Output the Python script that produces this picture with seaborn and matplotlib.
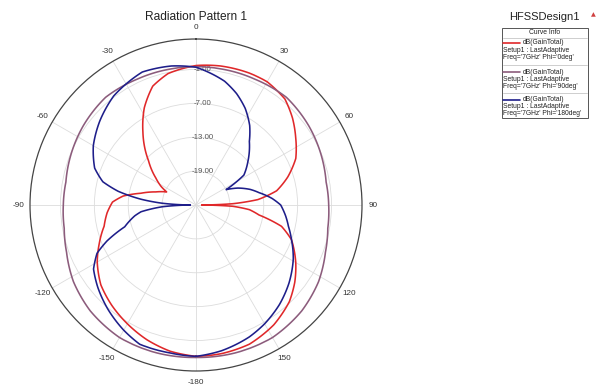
import numpy as np
import pandas as pd
import matplotlib
matplotlib.use("Agg")
import matplotlib.pyplot as plt
import matplotlib.transforms as mtransforms
from matplotlib.lines import Line2D
from matplotlib.patches import Rectangle
import seaborn as sns

# Gain cuts at 7 GHz: theta in degrees, dB(GainTotal)
theta_phi0 = [-180, -170, -160, -150, -140, -130, -120, -112, -103, -95, -88, -83, -78, -72,
              -66, -62, -56, -47, -36, -28, -20, -12, 0, 10, 22, 30, 40, 48, 56, 65, 73, 80,
              85, 88, 90, 92, 95, 99, 104, 110, 120, 128, 136, 147, 159, 170, 180]
gain_phi0 = [1.8, 1.3, 0.4, -0.7, -1.8, -3.0, -4.8, -6.5, -8.3, -9.2, -10.2, -12.0, -15.0, -17.5,
             -19.3, -18.0, -16.4, -13.5, -9.0, -5.5, -2.6, -1.2, -0.3, 0.0, 0.2, 0.2, -0.5, -2.0,
             -3.7, -5.5, -8.0, -10.5, -14.0, -18.5, -24.0, -18.5, -15.5, -13.7, -9.4, -7.0, -4.6,
             -2.8, -1.2, 0.3, 1.4, 1.7, 1.8]

theta_phi90 = [-180, -165, -150, -135, -122, -110, -100, -90, -80, -70, -55, -40, -25, -10, 0,
               10, 25, 40, 55, 70, 80, 90, 100, 110, 122, 135, 150, 165, 180]
gain_phi90 = [2.0, 2.1, 2.1, 1.5, 0.6, -0.6, -1.3, -1.5, -1.6, -1.2, -0.6, -0.1, -0.4, -0.5, -0.5,
              -0.5, -0.4, -0.1, -0.6, -1.2, -1.6, -1.5, -1.3, -0.6, 0.6, 1.5, 2.1, 2.1, 2.0]

theta_phi180 = [-180, -170, -158, -150, -140, -130, -122, -116, -112, -107, -100, -97, -93, -90,
                -87, -84, -80, -76, -70, -60, -49, -37, -22, -10, 0, 13, 20, 27, 34, 40, 50, 58,
                63, 68, 74, 79, 85, 90, 97, 103, 110, 119, 130, 140, 150, 158, 170, 180]
gain_phi180 = [1.8, 1.6, 1.6, 0.6, -0.8, -2.3, -3.6, -5.5, -8.0, -11.8, -14.0, -15.2, -19.0, -24.0,
               -19.0, -15.2, -11.0, -8.0, -5.9, -4.0, -2.4, -0.8, 0.4, 0.0, -0.6, -2.5, -4.0, -5.8,
               -8.0, -10.3, -13.0, -15.0, -19.0, -17.0, -15.0, -13.6, -11.5, -10.0, -9.0, -8.2,
               -7.0, -5.3, -3.5, -2.0, -0.7, 0.2, 1.2, 1.8]

curve_names = ["Freq='7GHz' Phi='0deg'", "Freq='7GHz' Phi='90deg'", "Freq='7GHz' Phi='180deg'"]
curve_colors = ["#E0282A", "#8C5C7C", "#1E1E8A"]

radial_ticks = [-19, -13, -7, -1]
r_min, r_max = -25, 4.4
angle_ticks = [0, 30, 60, 90, 120, 150, 180, 210, 240, 270, 300, 330]
angle_labels = ["0", "30", "60", "90", "120", "150", "-180", "-150", "-120", "-90", "-60", "-30"]

sns.set_style("white")
plt.rcParams["font.family"] = ["Liberation Sans", "DejaVu Sans"]

frames = []
for name, th, g in zip(curve_names,
                       [theta_phi0, theta_phi90, theta_phi180],
                       [gain_phi0, gain_phi90, gain_phi180]):
    frames.append(pd.DataFrame({"theta": np.deg2rad(th), "gain": g, "curve": name}))
df = pd.concat(frames, ignore_index=True)

W, H = 602, 388
fig = plt.figure(figsize=(W / 100, H / 100), dpi=100)
fig.patch.set_facecolor("white")


def fx(x):
    return x / W


def fy(y):
    return 1 - y / H


cx, cy, rad = 196, 205, 166
ax = fig.add_axes([fx(cx - rad), fy(cy + rad), 2 * rad / W, 2 * rad / H], projection="polar")
ax.set_theta_zero_location("N")
ax.set_theta_direction(-1)

sns.lineplot(data=df, x="theta", y="gain", hue="curve", hue_order=curve_names,
             palette=curve_colors, sort=False, estimator=None, legend=False,
             linewidth=1.15, ax=ax, zorder=3)
# follow the polar grid between samples instead of drawing straight chords
for ln in ax.lines:
    ln.get_path()._interpolation_steps = 24

ax.set_ylim(r_min, r_max)
ax.set_yticks(radial_ticks)
ax.set_yticklabels([])
ax.set_xticks(np.deg2rad(angle_ticks))
ax.set_xticklabels(angle_labels, fontsize=5.9, color="#333333")
ax.set_xticks(np.deg2rad(np.arange(0, 360, 5)), minor=True)
ax.tick_params(axis="x", which="major", direction="in", length=7, width=0.8,
               color="#333333", pad=1.2)
ax.tick_params(axis="x", which="minor", direction="in", length=3.5, width=0.6,
               color="#333333")
ax.xaxis.grid(True, which="major", color="#dcdcdc", linewidth=0.6)
ax.xaxis.grid(False, which="minor")
ax.yaxis.grid(True, color="#dcdcdc", linewidth=0.6)
ax.spines["polar"].set_color("#444444")
ax.spines["polar"].set_linewidth(0.9)
ax.set_xlabel("")
ax.set_ylabel("")

# radial value labels along the 0 deg spoke
shift = mtransforms.ScaledTranslation(7 / 100, 0, fig.dpi_scale_trans)
for r in radial_ticks:
    ax.text(0, r, f"{r:.2f}", transform=ax.transData + shift, ha="center", va="center",
            fontsize=5.7, color="#555555", zorder=2)

fig.text(fx(cx), fy(17), "Radiation Pattern 1", ha="center", va="center",
         fontsize=8.6, color="#222222")

# design name and curve info box
fig.text(fx(544), fy(17), "HFSSDesign1", ha="center", va="center", fontsize=8.0,
         color="#222222")
fig.text(fx(593), fy(15), "\u25B2", ha="center", va="center", fontsize=4.5,
         color="#D04040", family=["DejaVu Sans"])

bx0, by0, bx1, by1 = 502, 28, 588, 118
fig.add_artist(Rectangle((fx(bx0), fy(by1)), (bx1 - bx0) / W, (by1 - by0) / H,
                         transform=fig.transFigure, fill=False, edgecolor="#555555",
                         linewidth=0.7))
fig.text(fx(545), fy(33), "Curve Info", ha="center", va="center", fontsize=4.9,
         color="#222222")
for ysep in [37.5, 65, 93]:
    fig.add_artist(Line2D([fx(bx0 + 1), fx(bx1 - 1)], [fy(ysep), fy(ysep)],
                          transform=fig.transFigure, color="#bbbbbb", linewidth=0.5))

group_top = [43, 72, 99.5]
for name, col, y0 in zip(curve_names, curve_colors, group_top):
    fig.add_artist(Line2D([fx(503), fx(520)], [fy(y0), fy(y0)], transform=fig.transFigure,
                          color=col, linewidth=1.2))
    fig.text(fx(523), fy(y0), "dB(GainTotal)", ha="left", va="center", fontsize=4.9,
             color="#222222")
    fig.text(fx(503), fy(y0 + 7.3), "Setup1 : LastAdaptive", ha="left", va="center",
             fontsize=4.9, color="#222222")
    fig.text(fx(503), fy(y0 + 14.3), name, ha="left", va="center", fontsize=4.9,
             color="#222222")

fig.savefig("out.png", dpi=100, facecolor="white")
